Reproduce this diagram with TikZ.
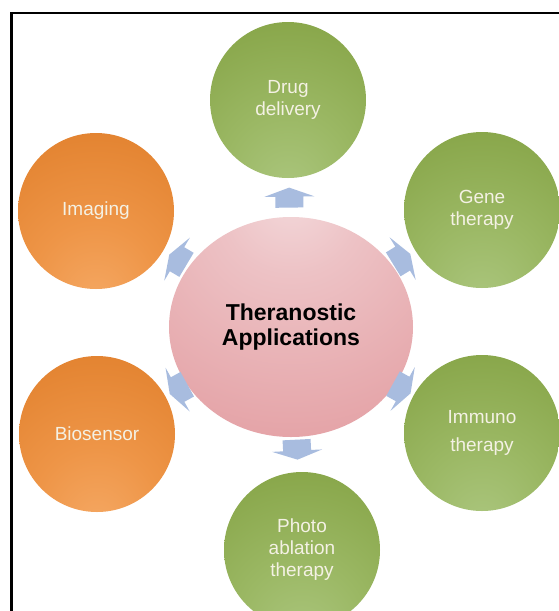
\documentclass[tikz,border=0pt]{standalone}
\usepackage{fontspec}
\setmainfont{Liberation Sans}
\usetikzlibrary{shapes.geometric,calc}

% palette
\definecolor{grA}{HTML}{ABC67E}
\definecolor{grB}{HTML}{9BB864}
\definecolor{grC}{HTML}{87A548}
\definecolor{grD}{HTML}{789638}
\definecolor{grE}{HTML}{6C8A2F}
\definecolor{orA}{HTML}{F5A863}
\definecolor{orB}{HTML}{EE9547}
\definecolor{orC}{HTML}{E2822F}
\definecolor{orD}{HTML}{D87424}
\definecolor{orE}{HTML}{CE6A1C}
\definecolor{pkA}{HTML}{F3D8DA}
\definecolor{pkB}{HTML}{EDC2C5}
\definecolor{pkC}{HTML}{E4A1A5}
\definecolor{pkD}{HTML}{DA8A90}
\definecolor{pkE}{HTML}{D17A81}
\definecolor{arrowblue}{HTML}{A8BCDF}
\definecolor{labelcream}{HTML}{F4F1E4}

% ball shadings: light spot low in the ball, darker towards the top rim
\pgfdeclareradialshading{greenball}{\pgfpoint{0bp}{-30bp}}{%
  color(0bp)=(grA); color(20bp)=(grB); color(45bp)=(grC);
  color(70bp)=(grD); color(100bp)=(grE)}
\pgfdeclareradialshading{orangeball}{\pgfpoint{0bp}{-30bp}}{%
  color(0bp)=(orA); color(20bp)=(orB); color(45bp)=(orC);
  color(70bp)=(orD); color(100bp)=(orE)}
% hub shading: highlight near the top
\pgfdeclareradialshading{pinkball}{\pgfpoint{0bp}{30bp}}{%
  color(0bp)=(pkA); color(14bp)=(pkB); color(45bp)=(pkC);
  color(75bp)=(pkD); color(100bp)=(pkE)}

\tikzset{
  ball/.style={circle, minimum size=156pt, inner sep=0pt, align=center,
    text=labelcream, font=\fontsize{19}{22}\selectfont},
  greenball/.style={ball, shade, shading=greenball},
  orangeball/.style={ball, shade, shading=orangeball},
  hub/.style={ellipse, minimum width=244pt, minimum height=220pt,
    inner sep=0pt, align=center, shade, shading=pinkball,
    font=\fontsize{23}{25}\selectfont\bfseries},
  frameline/.style={line width=2.2pt, black},
  barrow/.pic={\fill[arrowblue] (-10,-14) -- (1,-14) -- (1,-25) -- (10,0)
    -- (1,25) -- (1,14) -- (-10,14) -- cycle;}
}

\begin{document}
\begin{tikzpicture}[x=1pt, y=-1pt]
  \useasboundingbox (0,0) rectangle (559,611);
  \fill[white] (0,0) rectangle (559,611);

  % frame
  \coordinate (fbl) at (11.5,611);
  \coordinate (ftl) at (11.5,13);
  \coordinate (ftr) at (559,13);
  \draw[frameline] (fbl) -- (ftl) -- (ftr);

  % hub
  \node[hub] (core) at (291,327) {Theranostic\\Applications};

  % satellites
  \node[greenball] (drug) at (288,100) {Drug\\delivery};
  \node[greenball] (gene) at (482,210) {Gene\\therapy};
  \node[greenball, font=\fontsize{19}{28}\selectfont] (immuno) at (482,433) {Immuno\\therapy};
  \node[greenball] (photo) at (302,550) {Photo\\ablation\\therapy};
  \node[orangeball] (imaging) at (96,211) {Imaging};
  \node[orangeball] (biosensor) at (97,434) {Biosensor};

  % block arrows from the hub towards each satellite
  \foreach \s/\t in {drug/.57, gene/.58, immuno/.58, photo/.55,
                     biosensor/.58, imaging/.58}
    \path let \p1=($(\s.center)-(core.center)$), \n1={atan2(\y1,\x1)} in
      ($(core.center)!\t!(\s.center)$) pic[rotate=\n1] {barrow};
\end{tikzpicture}
\end{document}
